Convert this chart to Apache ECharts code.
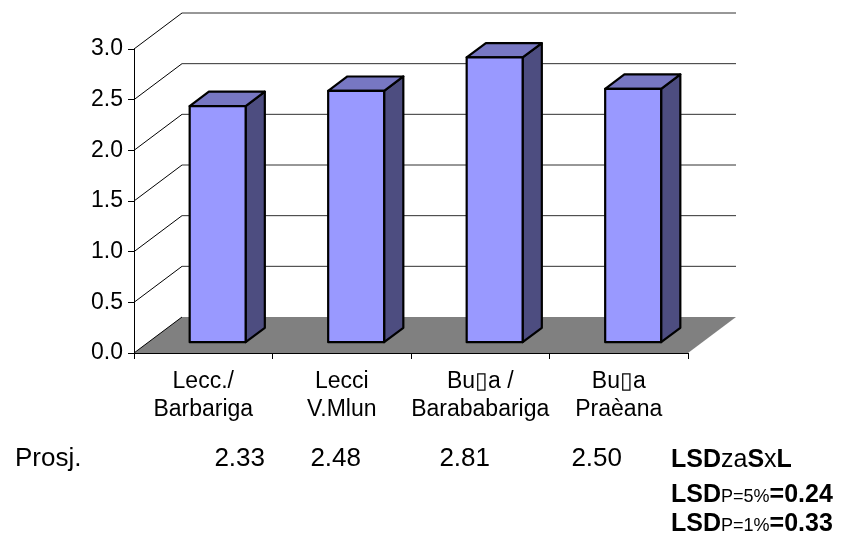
<!DOCTYPE html>
<html>
<head>
<meta charset="utf-8">
<title>Prosjek</title>
<script src="https://cdn.jsdelivr.net/npm/echarts@6/dist/echarts.min.js"></script>
<style>
  html, body { margin: 0; padding: 0; background: #ffffff; }
  #chart { width: 842px; height: 541px; }
</style>
</head>
<body>
<div id="chart"></div>
<script>
// Categories (two-line labels) and mean values
const categories = ['Lecc./\nBarbariga', 'Lecci\nV.Mlun', 'Bu\u25AFa /\nBarababariga', 'Bu\u25AFa\nPra\u00E8ana'];
const values = [2.33, 2.48, 2.81, 2.50];
const yTicks = [0, 0.5, 1.0, 1.5, 2.0, 2.5, 3.0];
const rowLabel = 'Prosj.';

// Depth of the pseudo-3D box (pixels) and bar placement inside it
const DEPTH_X = 48, DEPTH_Y = -36;
const BAR_FRONT = 0.3, BAR_DEPTH = 0.4, BAR_WIDTH_RATIO = 0.404;

const FONT = '"Liberation Sans", Arial, sans-serif';

const chart = echarts.init(document.getElementById('chart'), null, { renderer: 'canvas' });

// Floor, back-wall gridlines and side-wall diagonals, one item per y tick
function frameItem(params, api) {
  const cs = params.coordSys;
  const v = api.value(1);
  const y = api.coord([0, v])[1];
  const xl = cs.x, xr = cs.x + cs.width;
  const children = [];
  if (v === 0) {
    children.push({
      type: 'polygon',
      shape: { points: [[xl, y], [xr, y], [xr + DEPTH_X, y + DEPTH_Y], [xl + DEPTH_X, y + DEPTH_Y]] },
      style: { fill: '#808080', stroke: null }
    });
  } else {
    children.push({
      type: 'line',
      shape: { x1: xl + DEPTH_X, y1: y + DEPTH_Y, x2: xr + DEPTH_X, y2: y + DEPTH_Y },
      style: { stroke: '#303030', lineWidth: 1 }
    });
  }
  children.push({
    type: 'line',
    shape: { x1: xl, y1: y, x2: xl + DEPTH_X, y2: y + DEPTH_Y },
    style: { stroke: '#000000', lineWidth: 1 }
  });
  return { type: 'group', children: children };
}

// Box-shaped bar: side face, top face, front face
function barItem(params, api) {
  const idx = api.value(0);
  const val = api.value(1);
  const band = api.size([1, 0])[0];
  const w = band * BAR_WIDTH_RATIO;
  const c = api.coord([idx, val]);
  const base = api.coord([idx, 0]);
  const fx = DEPTH_X * BAR_FRONT, fy = DEPTH_Y * BAR_FRONT;
  const bx = DEPTH_X * BAR_DEPTH, by = DEPTH_Y * BAR_DEPTH;
  const x0 = c[0] - w / 2 + fx;
  const x1 = x0 + w;
  const top = c[1] + fy;
  const bot = base[1] + fy;
  const line = { stroke: '#000000', lineWidth: 2.2, lineJoin: 'round' };
  return {
    type: 'group',
    children: [
      { type: 'polygon', shape: { points: [[x1, top], [x1 + bx, top + by], [x1 + bx, bot + by], [x1, bot]] },
        style: Object.assign({ fill: '#4D4D80' }, line) },
      { type: 'polygon', shape: { points: [[x0, top], [x1, top], [x1 + bx, top + by], [x0 + bx, top + by]] },
        style: Object.assign({ fill: '#7777C2' }, line) },
      { type: 'rect', shape: { x: x0, y: top, width: w, height: bot - top },
        style: Object.assign({ fill: '#9999FF' }, line) }
    ]
  };
}

// Text rows under the chart
const valueRight = [265, 361, 490, 622];
const graphics = [
  { type: 'text', x: 15, y: 459,
    style: { text: rowLabel, font: '26px ' + FONT, fill: '#000', verticalAlign: 'middle' } }
];
values.forEach(function (v, i) {
  graphics.push({
    type: 'text', x: valueRight[i], y: 459,
    style: { text: v.toFixed(2), font: '26px ' + FONT, fill: '#000', align: 'right', verticalAlign: 'middle' }
  });
});
const rich = {
  b: { fontFamily: FONT, fontWeight: 'bold', fontSize: 25, lineHeight: 28, verticalAlign: 'bottom', fill: '#000' },
  n: { fontFamily: FONT, fontSize: 25, lineHeight: 28, verticalAlign: 'bottom', fill: '#000' },
  s: { fontFamily: FONT, fontSize: 18, lineHeight: 28, verticalAlign: 'bottom', fill: '#000', padding: [0, 0, 2, 0] }
};
graphics.push(
  { type: 'text', x: 671, y: 459, style: { text: '{b|LSD}{n|za}{b|S}{n|x}{b|L}', rich: rich, verticalAlign: 'middle' } },
  { type: 'text', x: 671, y: 494, style: { text: '{b|LSD}{s|P=5%}{b|=0.24}', rich: rich, verticalAlign: 'middle' } },
  { type: 'text', x: 671, y: 523, style: { text: '{b|LSD}{s|P=1%}{b|=0.33}', rich: rich, verticalAlign: 'middle' } }
);

chart.setOption({
  animation: false,
  backgroundColor: '#ffffff',
  grid: { left: 134, right: 154, top: 49, bottom: 188, containLabel: false },
  xAxis: {
    type: 'category',
    data: categories,
    axisLine: { show: true, lineStyle: { color: '#000', width: 1 } },
    axisTick: { show: true, length: 6, lineStyle: { color: '#000' } },
    axisLabel: { color: '#000', fontFamily: FONT, fontSize: 23, lineHeight: 28, margin: 15, interval: 0 },
    splitLine: { show: false }
  },
  yAxis: {
    type: 'value',
    min: 0, max: 3, interval: 0.5,
    axisLine: { show: true, lineStyle: { color: '#000', width: 1 } },
    axisTick: { show: true, length: 6, lineStyle: { color: '#000' } },
    axisLabel: { color: '#000', fontFamily: FONT, fontSize: 23, margin: 11,
      formatter: function (v) { return v.toFixed(1); } },
    splitLine: { show: false }
  },
  series: [
    {
      type: 'custom',
      renderItem: frameItem,
      data: yTicks.map(function (v) { return [0, v]; }),
      encode: { x: 0, y: 1 },
      clip: false,
      silent: true,
      z: 1
    },
    {
      type: 'custom',
      renderItem: barItem,
      data: values.map(function (v, i) { return [i, v]; }),
      encode: { x: 0, y: 1 },
      clip: false,
      z: 3
    }
  ],
  graphic: graphics
});
</script>
</body>
</html>
